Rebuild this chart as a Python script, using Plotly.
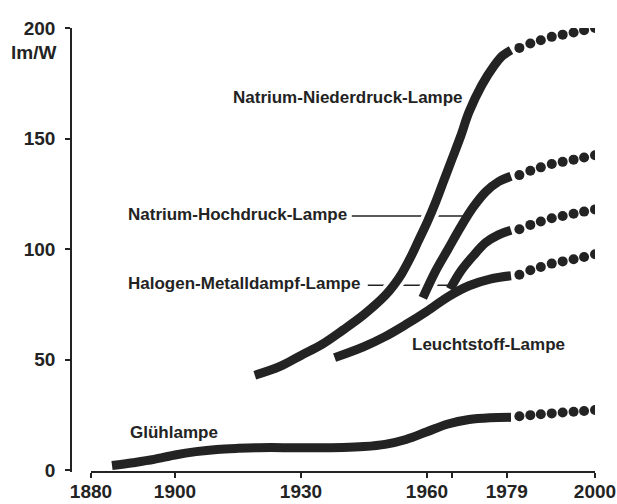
import plotly.graph_objects as go

INK = "#232323"
FONT = "Liberation Sans, Arial, sans-serif"

# ---- data (years, lm/W) ----
glueh_years = [1885, 1890, 1895, 1900, 1905, 1910, 1915, 1920, 1930, 1940, 1945, 1950, 1955, 1960, 1965, 1970, 1975, 1980]
glueh_vals  = [2.2, 3.5, 5.0, 7.0, 8.5, 9.5, 10.0, 10.3, 10.3, 10.4, 10.8, 11.8, 14.0, 17.5, 21.0, 23.0, 23.8, 24.0]

leucht_years = [1938, 1945, 1950, 1955, 1960, 1965, 1970, 1975, 1980]
leucht_vals  = [51, 56, 60.5, 66, 72, 78.5, 83.5, 86.5, 88]

halogen_years = [1965.5, 1968, 1971, 1974, 1977, 1980]
halogen_vals  = [82, 90, 97, 103, 106.5, 108.6]

hoch_years = [1959, 1962, 1965, 1968, 1971, 1974, 1977, 1980]
hoch_vals  = [78, 90, 100, 110, 119, 126, 130.5, 133]

nieder_years = [1919, 1925, 1930, 1935, 1940, 1945, 1950, 1952, 1954, 1956, 1958, 1960, 1962, 1964, 1966, 1968, 1970, 1973, 1976, 1978, 1980]
nieder_vals  = [43, 47, 52, 57, 63.5, 70.5, 79, 83.5, 89, 96, 104, 112, 121, 131, 141, 151, 162, 174, 183, 187.5, 190]

# forecast dots 1979-2000
dot_years   = [1982, 1984.6, 1987.1, 1989.7, 1992.3, 1994.9, 1997.4, 2000]
nieder_dots = [191, 193, 194.5, 196, 197, 198, 199, 200]
hoch_dots   = [133.5, 135.5, 137, 138.5, 139.5, 140.5, 141.5, 142.5]
halogen_dots = [109, 111, 112.5, 114, 115, 116, 117, 118]
leucht_dots = [88.5, 90.5, 92, 93.5, 94.5, 95.5, 96.5, 97.7]
glueh_dots  = [24.5, 25.0, 25.4, 25.8, 26.2, 26.5, 26.9, 27.3]

# leader lines for labels
hoch_leader_years = [1942.1, 1969.8]
hoch_leader_vals = [115, 115]
halogen_leader_years = [1945.9, 1965.3]
halogen_leader_vals = [83.7, 83.7]

x_ticks = [1880, 1900, 1930, 1960, 1966, 1979, 2000]
x_ticktext = ["1880", "1900", "1930", "1960", "", "1979", "2000"]
y_ticks = [0, 50, 100, 150, 200]

LW = 9

fig = go.Figure()

def line(xs, ys, color, width):
    fig.add_trace(go.Scatter(x=xs, y=ys, mode="lines",
                             line=dict(color=color, width=width, shape="spline", smoothing=1.0),
                             hoverinfo="skip", showlegend=False))

# leader + white halo layering
line(halogen_leader_years, halogen_leader_vals, INK, 1.6)
line(hoch_years, hoch_vals, "white", LW + 7)
line(hoch_leader_years, hoch_leader_vals, INK, 1.6)
line(nieder_years, nieder_vals, "white", LW + 7)

for xs, ys in [(glueh_years, glueh_vals), (leucht_years, leucht_vals),
               (halogen_years, halogen_vals), (hoch_years, hoch_vals),
               (nieder_years, nieder_vals)]:
    line(xs, ys, INK, LW)

for ys in [nieder_dots, hoch_dots, halogen_dots, leucht_dots, glueh_dots]:
    fig.add_trace(go.Scatter(x=dot_years, y=ys, mode="markers",
                             marker=dict(color=INK, size=10, line=dict(width=0)),
                             hoverinfo="skip", showlegend=False))

labels = [
    ("Natrium-Niederdruck-Lampe", 1969.0, 168.6, "right"),
    ("Natrium-Hochdruck-Lampe", 1888.3, 115.8, "left"),
    ("Halogen-Metalldampf-Lampe", 1888.3, 84.6, "left"),
    ("Leuchtstoff-Lampe", 1956.0, 57.1, "left"),
    ("Glühlampe", 1888.8, 17.0, "left"),
]
for txt, x, y, anc in labels:
    fig.add_annotation(x=x, y=y, xref="x", yref="y", text=txt, showarrow=False,
                       xanchor=anc, yanchor="middle",
                       font=dict(family=FONT, size=17, color=INK, weight="bold"))

fig.add_annotation(x=-13 / 524, y=(472 - 52) / 444, xref="paper", yref="paper",
                   text="lm/W", showarrow=False, xanchor="right", yanchor="middle",
                   font=dict(family=FONT, size=19, color=INK, weight="bold"))

fig.update_layout(
    width=617, height=504,
    margin=dict(l=71, r=22, t=28, b=32),
    paper_bgcolor="white", plot_bgcolor="white",
    xaxis=dict(range=[1880, 2000], domain=[20 / 524, 1], anchor="free", position=0,
               automargin=False,
               tickvals=x_ticks, ticktext=x_ticktext, ticks="outside", ticklen=5,
               tickwidth=1.5, tickcolor=INK, showline=True, linecolor=INK, linewidth=1.5,
               showgrid=False, zeroline=False, ticklabelstandoff=-3,
               tickfont=dict(family=FONT, size=19, color=INK, weight="bold")),
    yaxis=dict(range=[-0.7, 200], anchor="free", position=0, automargin=False,
               tickvals=y_ticks, ticks="outside", ticklen=5, tickwidth=1.5, tickcolor=INK,
               showline=True, linecolor=INK, linewidth=1.5, showgrid=False, zeroline=False,
               ticklabelstandoff=6,
               tickfont=dict(family=FONT, size=19, color=INK, weight="bold")),
)

# remove the browser's default 8px body margin so the 617x504 figure fills the window
fig.write_html("out.html", config={"displayModeBar": False},
               post_script="document.body.style.margin='0';document.body.style.overflow='hidden';")
